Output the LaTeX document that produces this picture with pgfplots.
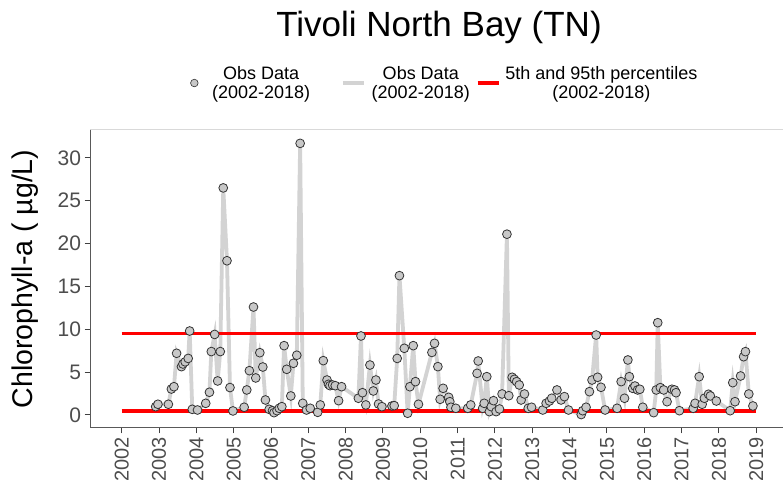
\documentclass[border=0pt]{standalone}
\usepackage{pgfplots}
\usepackage{pgfplotstable}
\pgfplotsset{compat=1.18}
\usepackage{fontspec}
\setmainfont{Liberation Sans}
\definecolor{tickgray}{HTML}{4D4D4D}
\definecolor{ptfill}{HTML}{C8C8C8}
\definecolor{linegray}{HTML}{D3D3D3}
\pgfplotsset{linekey/.style={legend image code/.code={\draw[##1] (0pt,0pt) -- (21pt,0pt);}}}
\pgfplotstableread{
x y
2002.91 0.97
2002.97 1.25
2003.25 1.25
2003.33 3.03
2003.40 3.3
2003.47 7.2
2003.60 5.64
2003.64 5.95
2003.70 6.2
2003.78 6.6
2003.82 9.8
2003.89 0.66
2004.03 0.58
2004.25 1.36
2004.35 2.65
2004.40 7.4
2004.49 9.4
2004.57 3.97
2004.64 7.4
2004.72 26.5
2004.82 18.0
2004.90 3.2
2004.98 0.47
2005.28 0.9
2005.35 2.92
2005.42 5.17
2005.53 12.6
2005.59 4.32
2005.70 7.27
2005.78 5.6
2005.85 1.75
2005.95 0.66
2006.04 0.5
2006.08 0.27
2006.16 0.5
2006.22 0.78
2006.29 0.97
2006.35 8.09
2006.42 5.33
2006.53 2.22
2006.60 6.03
2006.69 6.97
2006.78 31.7
2006.85 1.36
2006.95 0.58
2007.05 0.78
2007.25 0.31
2007.32 1.17
2007.40 6.34
2007.50 4.08
2007.54 3.58
2007.58 3.42
2007.65 3.5
2007.72 3.42
2007.81 1.67
2007.89 3.3
2008.34 1.95
2008.41 9.22
2008.45 2.6
2008.54 1.17
2008.65 5.83
2008.74 2.8
2008.81 4.08
2008.88 1.28
2008.97 0.97
2009.24 1.05
2009.30 1.09
2009.38 6.6
2009.44 16.26
2009.57 7.78
2009.66 0.2
2009.72 3.3
2009.81 8.09
2009.87 3.89
2009.95 1.25
2010.31 7.3
2010.38 8.36
2010.47 5.64
2010.53 1.83
2010.61 3.11
2010.76 2.06
2010.79 1.55
2010.82 0.9
2010.95 0.78
2011.27 0.78
2011.35 1.17
2011.52 4.86
2011.55 6.3
2011.67 0.78
2011.71 1.36
2011.78 4.47
2011.85 0.39
2011.90 0.97
2011.96 1.67
2012.03 0.39
2012.12 0.7
2012.19 2.45
2012.32 21.1
2012.37 2.25
2012.46 4.4
2012.52 4.16
2012.58 3.89
2012.65 3.5
2012.70 1.75
2012.79 2.45
2012.89 0.78
2012.98 0.9
2013.28 0.58
2013.37 1.36
2013.46 1.63
2013.52 1.95
2013.66 2.92
2013.77 1.75
2013.86 2.14
2013.97 0.58
2014.31 0.05
2014.35 0.5
2014.44 0.9
2014.53 2.72
2014.60 4.08
2014.71 9.33
2014.75 4.4
2014.84 3.23
2014.95 0.58
2015.27 0.78
2015.38 3.89
2015.47 1.95
2015.56 6.42
2015.60 4.47
2015.69 3.11
2015.75 3.38
2015.82 2.92
2015.88 3.0
2015.96 0.9
2016.25 0.27
2016.32 2.92
2016.36 10.77
2016.43 3.19
2016.52 2.92
2016.61 1.55
2016.74 3.0
2016.81 2.92
2016.85 2.6
2016.94 0.5
2017.31 0.78
2017.36 1.36
2017.47 4.47
2017.55 1.25
2017.61 1.95
2017.72 2.42
2017.77 2.22
2017.93 1.63
2018.30 0.5
2018.37 3.77
2018.43 1.55
2018.58 4.55
2018.66 6.8
2018.71 7.39
2018.80 2.45
2018.91 1.05
}\obsdata
\begin{document}
\begin{tikzpicture}[x=1pt,y=1pt]
\begin{axis}[
  at={(90pt,66pt)}, anchor=south west, scale only axis,
  width=698pt, height=298pt,
  xmin=2001.15, xmax=2019.85, ymin=-1.52, ymax=33.26,
  axis line style={draw=black!15, line width=1pt},
  tick pos=left, tick align=outside, major tick length=5.5pt,
  tick style={draw=black!75, line width=1pt},
  xtick={2002,...,2019}, ytick={0,5,...,30},
  /pgf/number format/assume math mode=true,
  /pgf/number format/1000 sep={},
  xticklabel style={rotate=90, anchor=east, font=\fontsize{20}{20}\selectfont, text=tickgray},
  yticklabel style={font=\fontsize{21}{21}\selectfont, text=tickgray},
  ylabel={Chlorophyll-a ( µg/L)},
  ylabel style={at={(rel axis cs:0,0.5)}, anchor=center, yshift=65pt, font=\fontsize{28.5}{28.5}\selectfont},
  legend style={at={(0.5,1)}, anchor=south, yshift=26pt, xshift=6pt, draw=none, fill=none,
    legend columns=3, font=\fontsize{18}{19}\selectfont,
    nodes={align=center},
    /tikz/column 1/.style={column sep=12pt},
    /tikz/column 2/.style={column sep=29pt},
    /tikz/column 3/.style={column sep=4pt},
    /tikz/column 4/.style={column sep=4pt},
    /tikz/column 5/.style={column sep=3pt}},
]
\addlegendimage{only marks, mark=*, mark size=3.8pt, mark options={fill=ptfill, draw=black!80, line width=0.6pt}}
\addlegendentry{Obs Data\\(2002-2018)}
\addlegendimage{linegray, line width=3.5pt, linekey}
\addlegendentry{Obs Data\\(2002-2018)}
\addlegendimage{red, line width=3.5pt, linekey}
\addlegendentry{5th and 95th percentiles\\(2002-2018)}
\addplot[linegray, line width=3.8pt, forget plot] table[x=x,y=y] {\obsdata};
\addplot[red, line width=3.3pt, forget plot] coordinates {(2002,9.52) (2019,9.52)};
\addplot[red, line width=3.3pt, forget plot] coordinates {(2002,0.48) (2019,0.48)};
\addplot[only marks, mark=*, mark size=4.4pt, mark options={fill=ptfill, draw=black!80, line width=0.8pt}, forget plot] table[x=x,y=y] {\obsdata};
\draw[black!65, line width=1.3pt] (rel axis cs:0,1) -- (rel axis cs:0,0) -- (rel axis cs:1,0);
\end{axis}
\node[anchor=base, font=\fontsize{35}{35}\selectfont] at (439,457) {Tivoli North Bay (TN)};
\pgfresetboundingbox
\useasboundingbox (0,0) rectangle (783,494);
\end{tikzpicture}
\end{document}
